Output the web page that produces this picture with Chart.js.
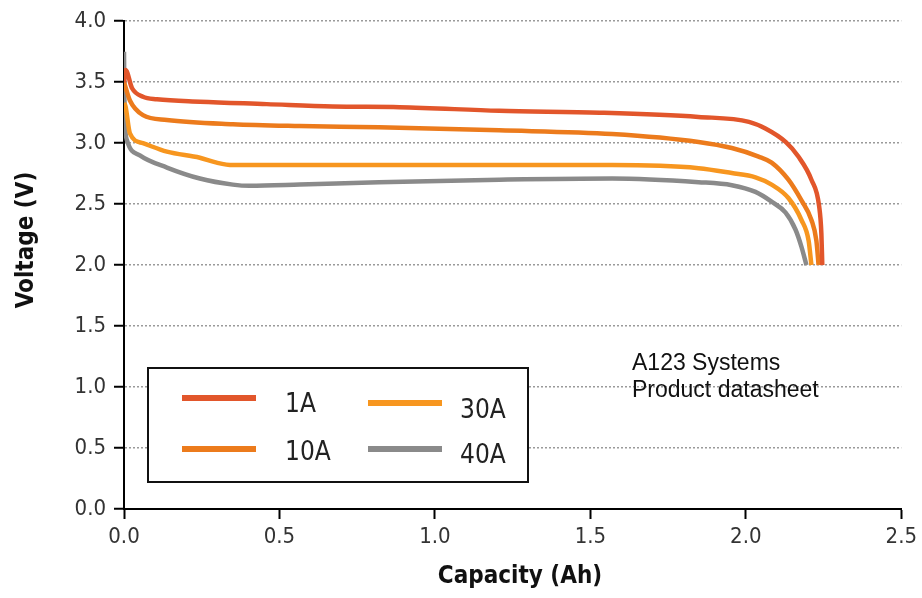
<!DOCTYPE html>
<html>
<head>
<meta charset="utf-8">
<script src="https://cdn.jsdelivr.net/npm/chart.js@4"></script>
<style>
  html, body { margin: 0; padding: 0; background: #fff; }
  #wrap { width: 922px; height: 598px; position: relative; }
</style>
</head>
<body>
<div id="wrap"><canvas id="dischargeChart" width="922" height="598"></canvas></div>
<script>
// Discharge curves (capacity in Ah, voltage in V)
const cap1A = [0, 0.005, 0.026, 0.061, 0.106, 0.244, 0.459, 0.671, 0.886, 1.207, 1.53, 1.848, 2.01, 2.063, 2.128, 2.169, 2.211, 2.236, 2.243, 2.246];
const volt1A = [3.5, 3.6, 3.45, 3.38, 3.36, 3.34, 3.32, 3.30, 3.295, 3.265, 3.25, 3.215, 3.175, 3.12, 3.01, 2.89, 2.70, 2.48, 2.26, 2.0];

const cap10A = [0, 0.019, 0.061, 0.138, 0.35, 0.565, 0.82, 1.207, 1.57, 1.848, 1.955, 2.041, 2.083, 2.137, 2.179, 2.211, 2.227, 2.234];
const volt10A = [3.5, 3.35, 3.23, 3.19, 3.155, 3.14, 3.13, 3.105, 3.075, 3.01, 2.96, 2.89, 2.84, 2.70, 2.53, 2.37, 2.20, 2.0];

const cap30A = [0, 0.005, 0.019, 0.061, 0.138, 0.244, 0.298, 0.35, 0.82, 1.207, 1.57, 1.848, 1.955, 2.031, 2.083, 2.137, 2.179, 2.202, 2.211];
const volt30A = [3.33, 3.3, 3.08, 3.0, 2.93, 2.88, 2.84, 2.82, 2.82, 2.82, 2.82, 2.795, 2.755, 2.72, 2.66, 2.55, 2.37, 2.20, 2.0];

const cap40A = [0, 0.002, 0.01, 0.051, 0.138, 0.244, 0.35, 0.404, 0.565, 0.82, 1.207, 1.57, 1.848, 1.955, 2.031, 2.083, 2.128, 2.16, 2.179, 2.195];
const volt40A = [3.75, 3.25, 3.02, 2.90, 2.80, 2.71, 2.66, 2.65, 2.66, 2.68, 2.70, 2.71, 2.68, 2.655, 2.60, 2.52, 2.43, 2.29, 2.15, 2.0];

const seriesLabels = ["1A", "10A", "30A", "40A"];
const seriesColors = ["#E2562B", "#EC7B1C", "#F7961F", "#8A8A8A"];
const yTicks = [0, 0.5, 1, 1.5, 2, 2.5, 3, 3.5, 4];
const xTicks = [0, 0.5, 1, 1.5, 2, 2.5];
const xTitle = "Capacity (Ah)";
const yTitle = "Voltage (V)";
const noteLines = ["A123 Systems", "Product datasheet"];

const condensed = "'DejaVu Sans Condensed', 'Liberation Sans Narrow', 'DejaVu Sans', sans-serif";

const toPoints = (xs, ys) => xs.map((x, i) => ({ x, y: ys[i] }));

const curves = [
  toPoints(cap1A, volt1A),
  toPoints(cap10A, volt10A),
  toPoints(cap30A, volt30A),
  toPoints(cap40A, volt40A),
];

// legend box, axis titles and source note, placed like the datasheet
const boxLegend = {
  id: "boxLegend",
  afterDraw(chart) {
    const { ctx } = chart;
    ctx.save();
    ctx.fillStyle = "#fff";
    ctx.fillRect(148, 368, 380, 114);
    ctx.strokeStyle = "#111";
    ctx.lineWidth = 2;
    ctx.strokeRect(148, 368, 380, 114);

    const slots = [
      { lx: 182, ly: 398, tx: 285, ty: 412 },
      { lx: 182, ly: 449, tx: 285, ty: 460 },
      { lx: 368, ly: 403, tx: 460, ty: 418 },
      { lx: 368, ly: 449, tx: 460, ty: 463 },
    ];
    ctx.font = `26px ${condensed}`;
    ctx.textBaseline = "alphabetic";
    seriesLabels.forEach((label, i) => {
      const s = slots[i];
      ctx.strokeStyle = seriesColors[i];
      ctx.lineWidth = 6;
      ctx.beginPath();
      ctx.moveTo(s.lx, s.ly);
      ctx.lineTo(s.lx + 74, s.ly);
      ctx.stroke();
      ctx.fillStyle = "#222";
      ctx.fillText(label, s.tx, s.ty);
    });

    ctx.font = "23px 'Liberation Sans', Arial, sans-serif";
    ctx.fillStyle = "#111";
    noteLines.forEach((line, i) => ctx.fillText(line, 632, 370 + i * 27));

    // axis titles
    ctx.font = `bold 24px ${condensed}`;
    ctx.textAlign = "center";
    ctx.textBaseline = "middle";
    ctx.fillText(xTitle, 520, 577);
    ctx.translate(27, 240);
    ctx.rotate(-Math.PI / 2);
    ctx.fillText(yTitle, 0, 0);
    ctx.restore();
  },
};

new Chart(document.getElementById("dischargeChart"), {
  type: "line",
  data: {
    datasets: curves.map((pts, i) => ({
      label: seriesLabels[i],
      data: pts,
      borderColor: seriesColors[i],
      backgroundColor: seriesColors[i],
      borderWidth: 4.5,
      pointRadius: 0,
      cubicInterpolationMode: "monotone",
      fill: false,
    })),
  },
  options: {
    responsive: false,
    animation: false,
    layout: { padding: { top: 21, right: 19, left: 0, bottom: 0 } },
    plugins: {
      legend: { display: false },
      tooltip: { enabled: false },
    },
    scales: {
      x: {
        type: "linear",
        min: 0,
        max: 2.5,
        afterBuildTicks: (scale) => {
          scale.ticks = xTicks.map((v) => ({ value: v }));
        },
        afterFit: (scale) => {
          scale.height = 89;
        },
        ticks: {
          color: "#333",
          padding: 5,
          font: { family: condensed, size: 22 },
          callback: (v) => v.toFixed(1),
        },
        grid: {
          drawOnChartArea: false,
          tickColor: "#000",
          tickLength: 10,
          tickWidth: 2,
        },
        border: { color: "#000", width: 2 },
      },
      y: {
        type: "linear",
        min: 0,
        max: 4,
        afterBuildTicks: (scale) => {
          scale.ticks = yTicks.map((v) => ({ value: v }));
        },
        afterFit: (scale) => {
          scale.width = 124;
        },
        ticks: {
          color: "#333",
          padding: 8,
          font: { family: condensed, size: 22 },
          callback: (v) => v.toFixed(1),
        },
        grid: {
          color: "#9a9a9a",
          lineWidth: 1.5,
          tickColor: "#000",
          tickLength: 10,
          tickWidth: 2,
        },
        border: { color: "#000", width: 2, dash: [2, 2] },
      },
    },
  },
  plugins: [boxLegend],
});
</script>
</body>
</html>
